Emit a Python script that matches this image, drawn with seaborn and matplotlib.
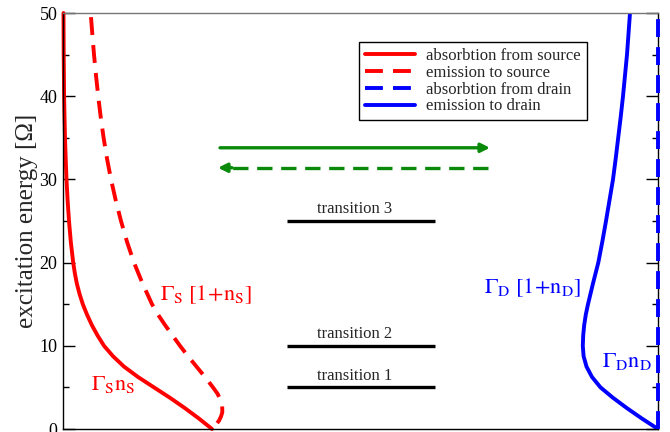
import numpy as np
import pandas as pd
import matplotlib
matplotlib.use("Agg")
import matplotlib.pyplot as plt
import seaborn as sns
from matplotlib.ticker import MultipleLocator

# ---------------- data (rates in arbitrary units, energy in units of Omega) ----------------
E_abs_src = [50, 47.5, 45, 42.5, 40, 37.5, 35, 32.5, 30, 27.5, 25, 22.5, 20, 18.75, 17.5,
             16.25, 15, 13.75, 12.5, 11.25, 10, 8.75, 7.5, 6.25, 5, 3.75, 2.5, 1.25, 0]
R_abs_src = [0.05, 0.06, 0.07, 0.09, 0.11, 0.15, 0.20, 0.27, 0.35, 0.46, 0.60, 0.78, 1.02,
             1.18, 1.38, 1.65, 1.98, 2.40, 2.88, 3.45, 4.10, 5.00, 6.10, 7.50, 9.10, 10.70,
             12.20, 13.60, 14.90]

E_em_src = [49.5, 47.5, 45, 42.5, 40, 37.5, 35, 32.5, 30, 27.5, 25, 22.5, 20, 17.5, 15,
            13.75, 12.5, 11.25, 10, 8.75, 7.5, 6.25, 5, 4.25, 3.5, 2.75, 2, 1.5, 1, 0.5, 0]
R_em_src = [2.80, 2.93, 3.10, 3.30, 3.52, 3.77, 4.06, 4.40, 4.80, 5.27, 5.80, 6.40, 7.10,
            7.95, 8.90, 9.50, 10.20, 10.95, 11.70, 12.50, 13.35, 14.20, 15.00, 15.45,
            15.75, 15.92, 15.93, 15.80, 15.60, 15.28, 14.90]

E_abs_drn = [0, 50]
R_abs_drn = [0.0, 0.0]

E_em_drn = [50, 47.5, 45, 42.5, 40, 37.5, 35, 32.5, 30, 27.5, 25, 22.5, 20, 17.5, 15, 13.75,
            12.5, 11.25, 10, 8.75, 7.5, 6.25, 5, 3.75, 2.5, 1.25, 0]
R_em_drn = [2.80, 2.95, 3.10, 3.30, 3.50, 3.73, 3.98, 4.23, 4.50, 4.85, 5.20, 5.57, 5.97,
            6.50, 7.00, 7.22, 7.38, 7.48, 7.52, 7.44, 7.15, 6.60, 5.75, 4.50, 3.10, 1.60,
            0.0]

transition_names = ["transition 1", "transition 2", "transition 3"]
transition_E = [5, 10, 25]
transition_x = [22.4, 37.2]

arrow_E = [33.8, 31.4]
arrow_x = [15.7, 42.7]

labels = ["absorbtion from source", "emission to source",
          "absorbtion from drain", "emission to drain"]

XMAX = 59.5
RED, BLUE, GREEN = "#ff0000", "#0000ff", "#0a8a0a"
DASH = (0, (4.6, 2.6))

# ---------------- style ----------------
sns.set_style("white")
plt.rcParams["font.family"] = ["Liberation Serif", "DejaVu Serif"]
plt.rcParams["mathtext.fontset"] = "stix"

fig = plt.figure(figsize=(6.7, 4.32), dpi=100)
ax = fig.add_axes([63 / 670, 3 / 432, 595 / 670, 416 / 432])

df1 = pd.DataFrame({"x": R_abs_src, "y": E_abs_src})
df2 = pd.DataFrame({"x": R_em_src, "y": E_em_src})
df3 = pd.DataFrame({"x": XMAX - np.array(R_abs_drn), "y": E_abs_drn})
df4 = pd.DataFrame({"x": XMAX - np.array(R_em_drn), "y": E_em_drn})

lw = 2.8
sns.lineplot(data=df1, x="x", y="y", sort=False, estimator=None, color=RED, lw=lw, ax=ax,
             label=labels[0], clip_on=False)
sns.lineplot(data=df2, x="x", y="y", sort=False, estimator=None, color=RED, lw=lw, ax=ax,
             label=labels[1], linestyle=DASH)
sns.lineplot(data=df3, x="x", y="y", sort=False, estimator=None, color=BLUE, lw=lw, ax=ax,
             label=labels[2], linestyle=DASH, clip_on=False, zorder=5)
sns.lineplot(data=df4, x="x", y="y", sort=False, estimator=None, color=BLUE, lw=lw, ax=ax,
             label=labels[3])

# transitions
for name, e in zip(transition_names, transition_E):
    ax.plot(transition_x, [e, e], color="black", lw=2.4, solid_capstyle="butt")
    ax.text(sum(transition_x) / 2 - 0.6, e + 0.45, name, ha="center", va="bottom",
            fontsize=12)

# green arrows
ax.annotate("", xy=(arrow_x[1], arrow_E[0]), xytext=(arrow_x[0], arrow_E[0]),
            arrowprops=dict(arrowstyle="-|>", color=GREEN, lw=2.4, mutation_scale=13,
                            shrinkA=0, shrinkB=0))
ax.plot([arrow_x[1] - 0.2, arrow_x[0] + 0.7], [arrow_E[1], arrow_E[1]], color=GREEN, lw=2.4,
        linestyle=DASH)
ax.annotate("", xy=(arrow_x[0] - 0.2, arrow_E[1]), xytext=(arrow_x[0] + 1.2, arrow_E[1]),
            arrowprops=dict(arrowstyle="-|>", color=GREEN, lw=2.4, mutation_scale=13,
                            shrinkA=0, shrinkB=0))

# curve labels
fs = 16
ax.text(9.7, 15.5, r"$\Gamma_\mathrm{S}\ [1\!+\!\mathrm{n}_\mathrm{S}]$", color=RED,
        fontsize=fs, va="baseline")
ax.text(2.8, 4.7, r"$\Gamma_\mathrm{S}\mathrm{n}_\mathrm{S}$", color=RED, fontsize=fs,
        va="baseline")
ax.text(42.1, 16.3, r"$\Gamma_\mathrm{D}\ [1\!+\!\mathrm{n}_\mathrm{D}]$", color=BLUE,
        fontsize=fs, va="baseline")
ax.text(53.9, 7.45, r"$\Gamma_\mathrm{D}\mathrm{n}_\mathrm{D}$", color=BLUE, fontsize=fs,
        va="baseline")

# axes
ax.set_xlim(0, XMAX)
ax.set_ylim(0, 50)
ax.set_xticks([])
ax.yaxis.set_major_locator(MultipleLocator(10))
ax.yaxis.set_minor_locator(MultipleLocator(5))
ax.tick_params(axis="y", which="both", direction="in", left=True, right=True,
               labelsize=13, pad=4, colors="black")
ax.tick_params(axis="y", which="major", length=8.6, width=1)
ax.tick_params(axis="y", which="minor", length=4.3, width=1)
ax.set_xlabel("")
ax.set_ylabel("excitation energy [Ω]", fontsize=18, labelpad=1)
for side in ["left", "right", "bottom"]:
    ax.spines[side].set_color("black")
    ax.spines[side].set_linewidth(1.0)
ax.spines["top"].set_color("#777777")
ax.spines["top"].set_linewidth(1.0)

handles, labs = ax.get_legend_handles_labels()
leg = ax.legend(handles[:4], labs[:4], loc="upper left",
                bbox_to_anchor=((359 - 63) / 595, (429 - 42) / 416),
                fontsize=12, frameon=True, fancybox=False, edgecolor="black",
                framealpha=1, handlelength=3.0, handletextpad=0.7, labelspacing=0.05,
                borderpad=0.35, borderaxespad=0)
leg.get_frame().set_linewidth(1.0)

fig.savefig("out.png", dpi=100)
